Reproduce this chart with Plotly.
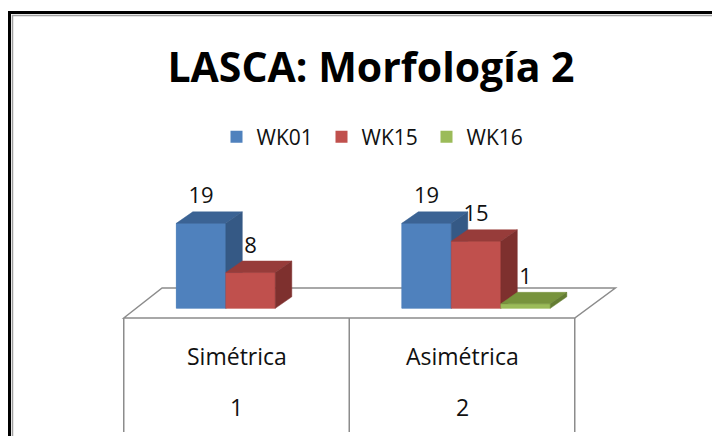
import plotly.graph_objects as go

# data
categories = ["Simétrica", "Asimétrica"]
category_numbers = ["1", "2"]
series_names = ["WK01", "WK15", "WK16"]
wk01 = [19, 19]
wk15 = [8, 15]
wk16 = [None, 1]
series_values = [wk01, wk15, wk16]

front_colors = ["#4F81BD", "#C0504D", "#9BBB59"]
top_colors = ["#3B6394", "#973C3A", "#77933C"]
side_colors = ["#355985", "#7E302E", "#647D32"]

FONT = "Open Sans, Noto Sans, sans-serif"

# the page body adds an 8px margin, so the figure is drawn 8px in from the window corner
PAGE = 8
W, H = 720 - PAGE, 436 - PAGE

# pixel (window coords) <-> axis units of the 3D box
PX_CAT, X_ORIGIN = 225.5, 236.5 - PAGE
PX_VAL, Y_ORIGIN = 4.47, 308.3 - PAGE


def ux(px):
    return (px - PAGE - X_ORIGIN) / PX_CAT


def uy(py):
    return (Y_ORIGIN - (py - PAGE)) / PX_VAL


def paper_x(px):
    return (px - PAGE) / W


def paper_y(py):
    return 1 - (py - PAGE) / H


BAR_W = 49.5 / PX_CAT
FIRST_OFF = -0.267
DX = 16.5 / PX_CAT
DY = 11.5 / PX_VAL

fig = go.Figure()

# legend / base bars (front faces)
for s, name in enumerate(series_names):
    fig.add_trace(go.Bar(
        x=list(range(len(categories))), y=series_values[s], base=0,
        width=BAR_W, offset=FIRST_OFF + s * BAR_W,
        marker=dict(color=front_colors[s], line=dict(width=0)),
        name=name, hoverinfo="skip",
    ))


def poly(xs, ys, color):
    fig.add_trace(go.Scatter(
        x=xs + [xs[0]], y=ys + [ys[0]], mode="lines", fill="toself",
        fillcolor=color, line=dict(color=color, width=0.5),
        showlegend=False, hoverinfo="skip",
    ))


# 3D faces, back-to-front left to right
lab_x, lab_y, lab_t = [], [], []
for c in range(len(categories)):
    for s in range(len(series_names)):
        v = series_values[s][c]
        if v is None:
            continue
        x0 = c + FIRST_OFF + s * BAR_W
        x1 = x0 + BAR_W
        poly([x0, x1, x1, x0], [0, 0, v, v], front_colors[s])
        poly([x0, x0 + DX, x1 + DX, x1], [v, v + DY, v + DY, v], top_colors[s])
        poly([x1, x1, x1 + DX, x1 + DX], [0, v, v + DY, DY], side_colors[s])
        lab_x.append((x0 + x1) / 2)
        lab_y.append(v + DY + 14 / PX_VAL)
        lab_t.append(str(v))

fig.add_trace(go.Scatter(
    x=lab_x, y=lab_y, text=lab_t, mode="text", textposition="middle center",
    textfont=dict(family=FONT, size=22, color="#111111"),
    showlegend=False, hoverinfo="skip",
))

# floor of the 3D box and category dividers
floor_front, floor_back = uy(318), uy(288)
back_dx = 0.18
grey = "#8C8C8C"
n = len(categories)
fig.add_shape(type="path", layer="below",
              path=f"M {-0.5},{floor_front} L {-0.5 + back_dx - 0.01},{floor_back} "
                   f"L {n - 0.5 + back_dx},{floor_back} L {n - 0.5},{floor_front} Z",
              line=dict(color=grey, width=1.5), fillcolor="white")
for k in range(n + 1):
    fig.add_shape(type="line", layer="below", x0=k - 0.5, x1=k - 0.5,
                  y0=floor_front, y1=uy(432), line=dict(color=grey, width=1.5))

for c, (cat, num) in enumerate(zip(categories, category_numbers)):
    fig.add_annotation(x=c, y=uy(356), text=cat, showarrow=False,
                       font=dict(family=FONT, size=23, color="#111111"))
    fig.add_annotation(x=c, y=uy(407), text=num, showarrow=False,
                       font=dict(family=FONT, size=23, color="#111111"))

# chart frame
fig.add_shape(type="path", xref="paper", yref="paper",
              path=f"M {paper_x(9.5)},0 L {paper_x(9.5)},{paper_y(12.5)} L 1,{paper_y(12.5)}",
              line=dict(color="black", width=3))
fig.add_shape(type="path", xref="paper", yref="paper",
              path=f"M {paper_x(12.5)},0 L {paper_x(12.5)},{paper_y(15.5)} L 1,{paper_y(15.5)}",
              line=dict(color="#A0A0A0", width=1.5))

fig.update_layout(
    width=W, height=H,
    margin=dict(l=0, r=0, t=0, b=0),
    paper_bgcolor="white", plot_bgcolor="white",
    barmode="overlay",
    title=dict(text="<b>LASCA: Morfología 2</b>", x=paper_x(371), y=paper_y(68),
               xanchor="center", yanchor="middle",
               font=dict(family=FONT, size=41, color="black")),
    legend=dict(orientation="h", x=paper_x(374), y=paper_y(137), xanchor="center", yanchor="middle",
                font=dict(family=FONT, size=21, color="#111111"),
                bgcolor="rgba(0,0,0,0)", entrywidth=60, itemsizing="constant"),
    xaxis=dict(range=[ux(PAGE), ux(PAGE + W)], visible=False, fixedrange=True),
    yaxis=dict(range=[uy(PAGE + H), uy(PAGE)], visible=False, fixedrange=True),
    font=dict(family=FONT),
    showlegend=True,
)

fig.write_html("out.html")
